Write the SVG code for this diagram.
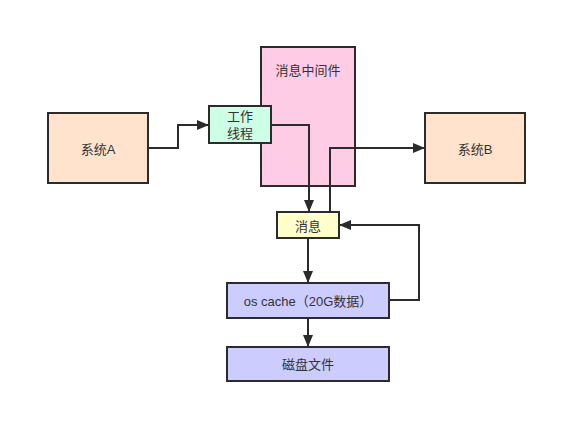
<svg xmlns="http://www.w3.org/2000/svg" width="588" height="443" viewBox="0 0 588 443">
<defs>
<style>
.n{stroke:#2b2b2b;stroke-width:2}
.t{font-family:"Liberation Sans","Noto Sans CJK SC",sans-serif;font-size:13px;fill:#333;text-anchor:middle;dominant-baseline:central}
.c{fill:none;stroke:#2b2b2b;stroke-width:2}
</style>
<marker id="ah" viewBox="0 0 12 10" refX="11" refY="5" markerWidth="6" markerHeight="5" orient="auto" markerUnits="strokeWidth">
<path d="M0,0 L12,5 L0,10 z" fill="#2b2b2b"/>
</marker>
</defs>
<rect width="588" height="443" fill="#ffffff"/>
<g id="mq"><rect class="n" x="261" y="47" width="94" height="139" fill="#ffcce6"/><text class="t" x="308" y="70">消息中间件</text></g>
<g id="sysA"><rect class="n" x="48" y="113" width="100" height="70" fill="#ffe3cc"/><text class="t" x="98" y="149">系统A</text></g>
<g id="sysB"><rect class="n" x="425" y="113" width="100" height="70" fill="#ffe3cc"/><text class="t" x="475" y="149">系统B</text></g>
<g id="worker"><rect class="n" x="209" y="106" width="62" height="37" fill="#ccffe6"/><text class="t" x="240" y="116">工作</text><text class="t" x="240" y="133">线程</text></g>
<g id="msg"><rect class="n" x="277" y="212" width="62" height="26" fill="#ffffcc"/><text class="t" x="308" y="226">消息</text></g>
<g id="cache"><rect class="n" x="227" y="283" width="162" height="35" fill="#ccccff"/><text class="t" x="308" y="301">os cache（20G数据）</text></g>
<g id="disk"><rect class="n" x="227" y="347" width="162" height="34" fill="#ccccff"/><text class="t" x="308" y="364">磁盘文件</text></g>
<g id="connectors">
<path class="c" d="M148,148 H178 V125 H208" marker-end="url(#ah)"/>
<path class="c" d="M271,125 H309 V211" marker-end="url(#ah)"/>
<path class="c" d="M330,212 V148 H424" marker-end="url(#ah)"/>
<path class="c" d="M308,238 V282" marker-end="url(#ah)"/>
<path class="c" d="M308,318 V346" marker-end="url(#ah)"/>
<path class="c" d="M389,300 H419 V225 H340" marker-end="url(#ah)"/>
</g>
</svg>
